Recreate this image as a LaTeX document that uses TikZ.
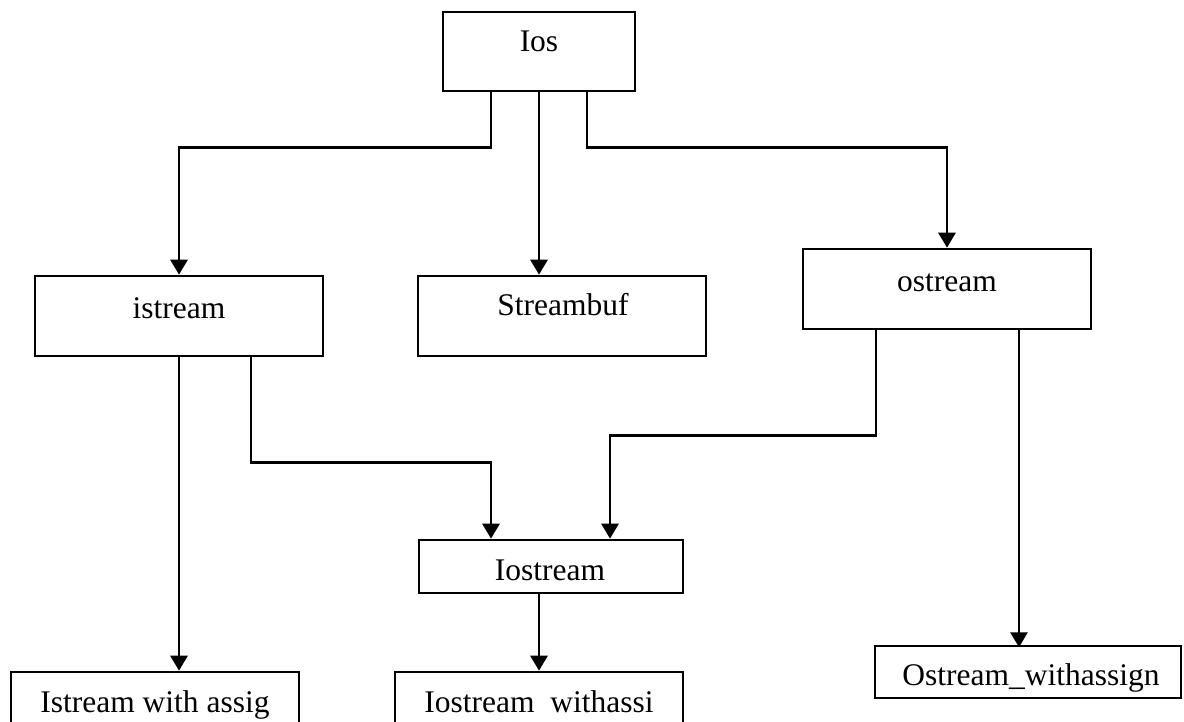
\documentclass[tikz,border=0pt]{standalone}
\usepackage{fontspec}
\setmainfont{Liberation Serif}
\usetikzlibrary{arrows.meta}

\tikzset{
  box/.style={draw, line width=2.6pt, rectangle, inner sep=0pt, fill=white},
  lbl/.style={anchor=base, inner sep=0pt, font=\fontsize{31.5}{36}\selectfont},
  arr/.style={line width=2.8pt, -{Triangle[width=17pt,length=15pt]}},
}

\begin{document}
\begin{tikzpicture}[x=1pt, y=-1pt]
  \useasboundingbox (0,0) rectangle (1184,722);

  % class boxes
  \node[box, minimum width=192pt, minimum height=79pt] (ios)        at (539,51.5) {};
  \node[box, minimum width=288pt, minimum height=80pt] (istream)    at (179,316)  {};
  \node[box, minimum width=288pt, minimum height=80pt] (streambuf)  at (562,316)  {};
  \node[box, minimum width=288pt, minimum height=80pt] (ostream)    at (947,289)  {};
  \node[box, minimum width=264pt, minimum height=53pt] (iostream)   at (551,566.5) {};
  \node[box, minimum width=288pt, minimum height=80pt] (istreamwa)  at (155,712)  {};
  \node[box, minimum width=288pt, minimum height=80pt] (iostreamwa) at (539,712)  {};
  \node[box, minimum width=306pt, minimum height=52pt] (ostreamwa)  at (1028,672) {};

  % class names
  \node[lbl] (tios)        at (539,52)  {Ios};
  \node[lbl] (tistream)    at (179,318) {istream};
  \node[lbl] (tstreambuf)  at (563,316) {Streambuf};
  \node[lbl] (tostream)    at (947,291) {ostream};
  \node[lbl] (tiostream)   at (550,580) {Iostream};
  \node[lbl] (tistreamwa)  at (155,712) {Istream with assig};
  \node[lbl] (tiostreamwa) at (539,712) {Iostream\ \ withassi};
  \node[lbl] (tostreamwa)  at (1031,685) {Ostream\_withassign};

  % inheritance connectors
  \draw[arr] ([xshift=-48pt]ios.south) -- ++(0,55) -| (istream.north);
  \draw[arr] (ios.south) -- (ios.south |- streambuf.north);
  \draw[arr] ([xshift=48pt]ios.south) -- ++(0,55) -| (ostream.north);

  \draw[arr] (istream.south) -- (istream.south |- istreamwa.north);
  \draw[arr] ([xshift=72pt]istream.south) -- ++(0,105) -| ([xshift=-60pt]iostream.north);
  \draw[arr] ([xshift=-71pt]ostream.south) -- ++(0,105) -| ([xshift=59pt]iostream.north);
  \draw[arr] ([xshift=72pt]ostream.south) -- ++(0,317);

  \draw[arr] ([xshift=-12pt]iostream.south) -- (iostreamwa.north);
\end{tikzpicture}
\end{document}
